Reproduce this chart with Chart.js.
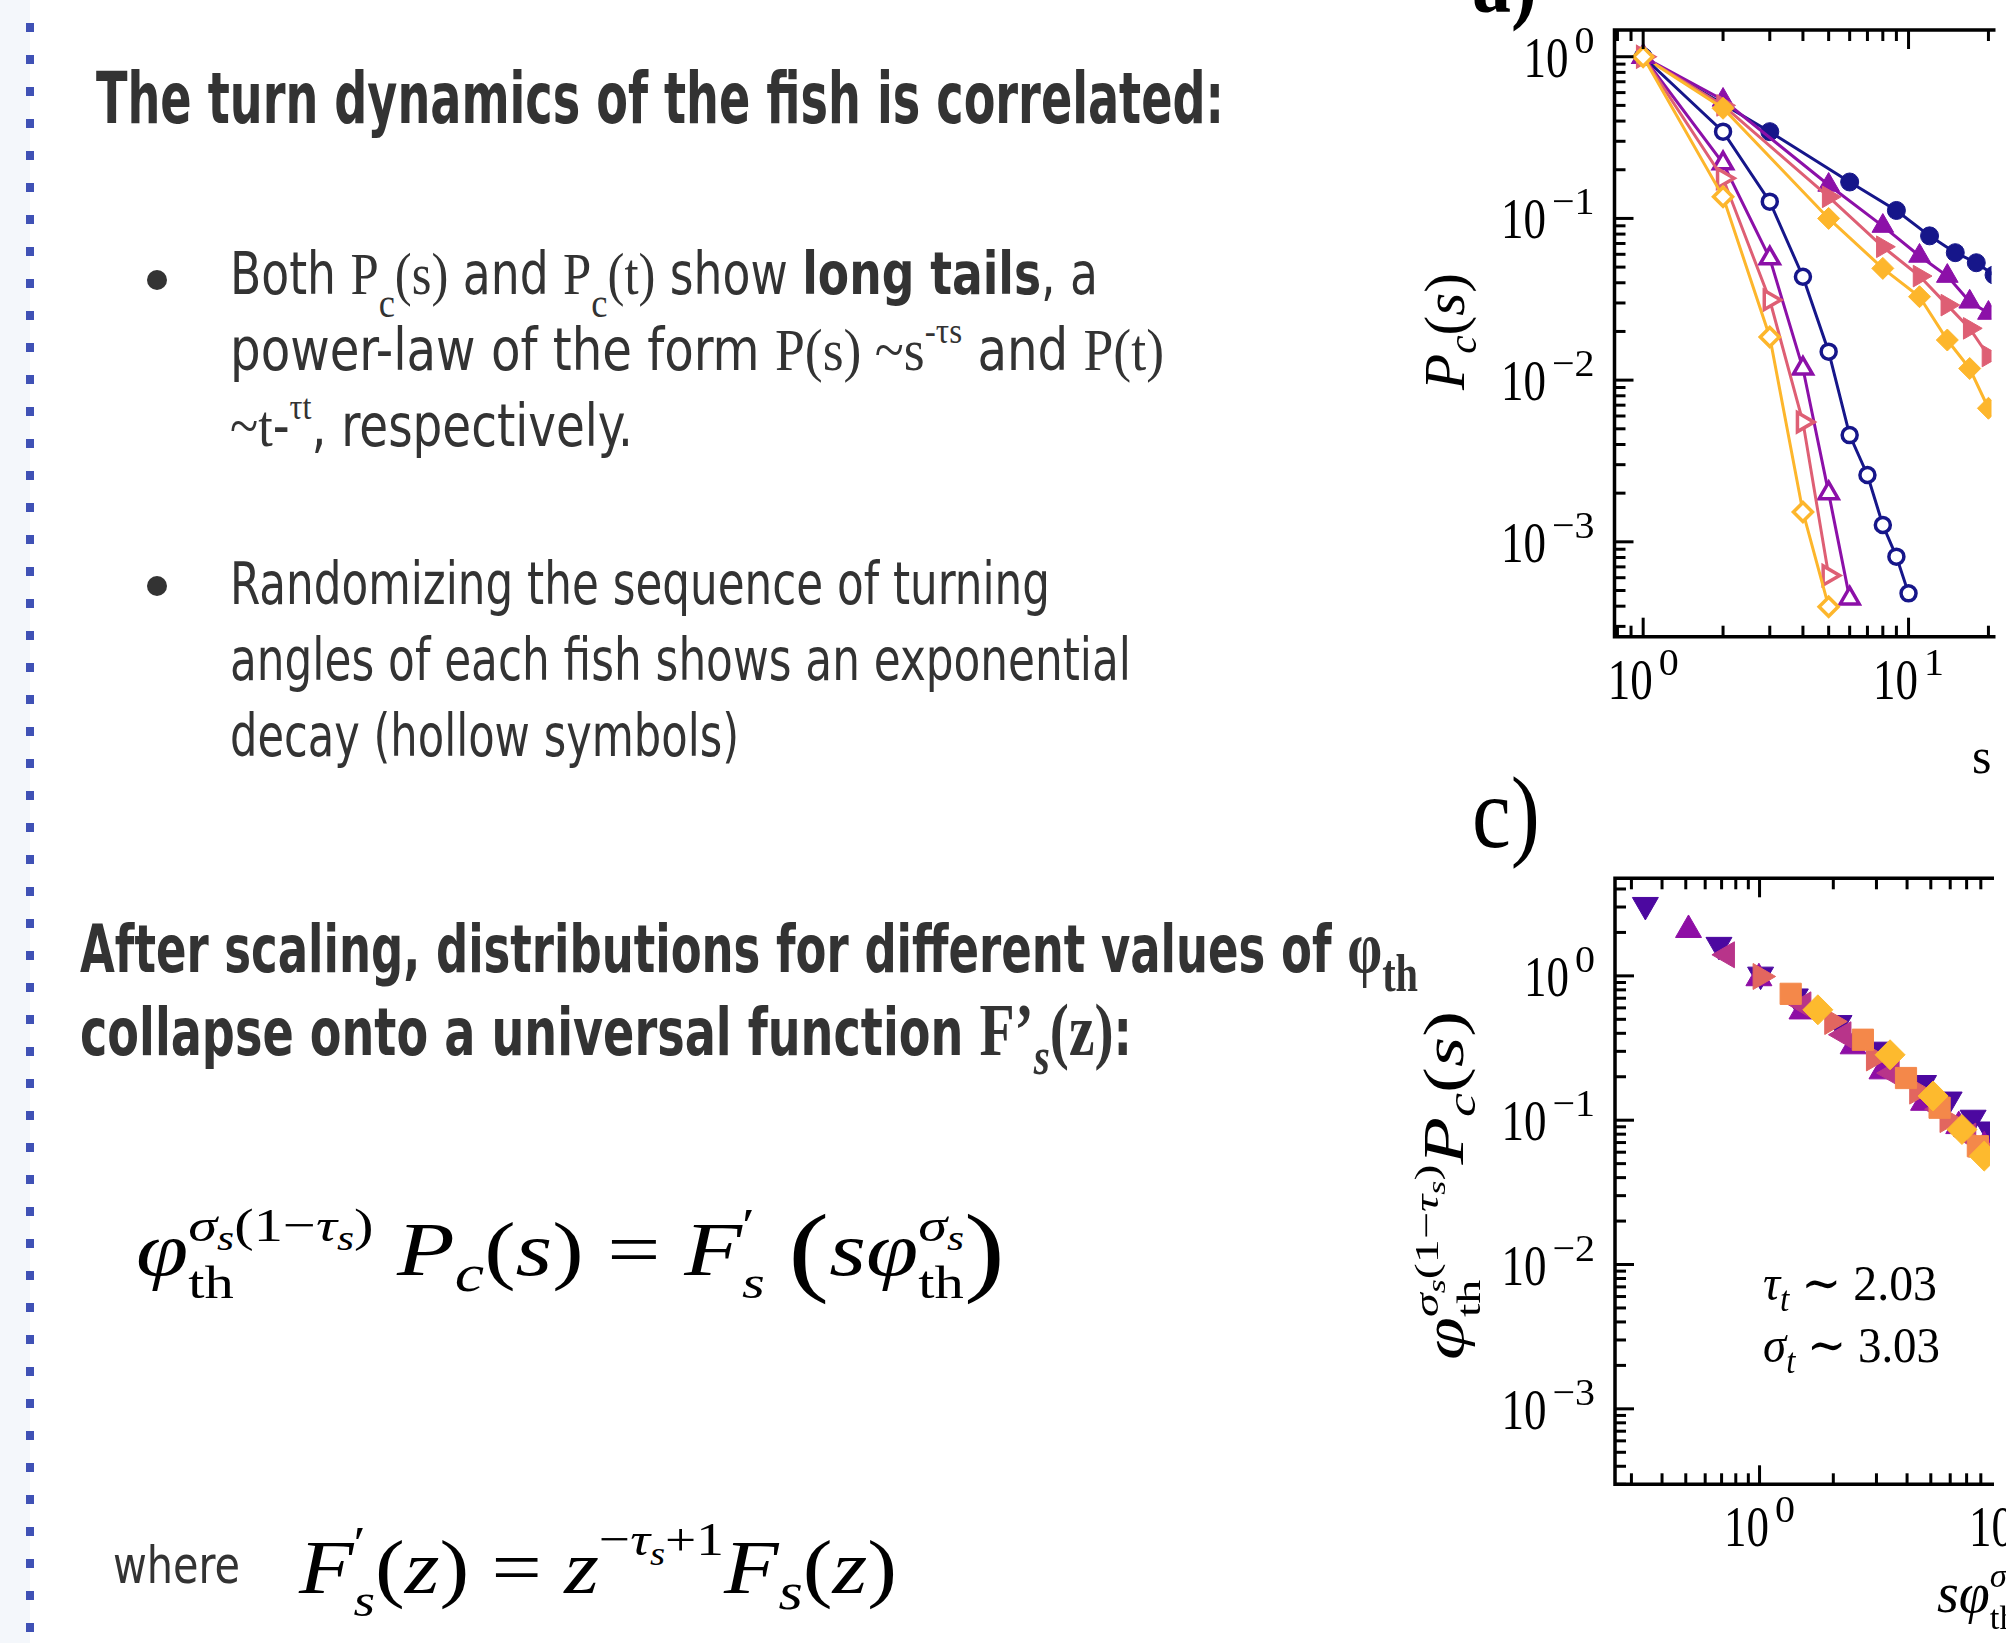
<!DOCTYPE html>
<html>
<head>
<meta charset="utf-8">
<script src="https://cdn.jsdelivr.net/npm/chart.js@4.4.1/dist/chart.umd.min.js"></script>
<style>
  html, body { margin: 0; padding: 0; background: #fff; }
  body { width: 2006px; height: 1643px; overflow: hidden; position: relative; }
  #strip { position: absolute; left: 0; top: 0; width: 30px; height: 1643px; background: #f4f7fb; }
  #dash  { position: absolute; left: 26px; top: 23px; width: 8px; height: 1620px;
           background: repeating-linear-gradient(to bottom, #3f51b5 0 9px, transparent 9px 32px); }
  canvas { position: absolute; }
  .t  { position: absolute; white-space: nowrap; width: max-content; line-height: 1.2; color: #333;
        font-family: 'Liberation Sans Narrow', 'DejaVu Sans Condensed', Roboto, sans-serif; }
  .t sub, .t sup { line-height: 0; }
  .t sub { font-size: 0.72em; vertical-align: -0.35em; }
  .t sub.lo { vertical-align: -0.55em; }
  .t sup { font-size: 0.62em; vertical-align: 0.75em; }
  .m  { font-family: 'Liberation Serif', 'Times New Roman', Tinos, 'DejaVu Serif', serif; }
  .big { font-size: 1.12em; }
  .eq { font-family: 'Liberation Serif', 'Times New Roman', Tinos, 'DejaVu Serif', serif; color: #000; }
  .eq sub { font-size: 0.7em; vertical-align: -0.3em; }
  .eq sup { font-size: 0.62em; vertical-align: 0.8em; }
  .st { display: inline-flex; flex-direction: column; font-size: 0.62em; line-height: 1.2; vertical-align: 0.72em; }
  .st sub { font-size: 0.75em; vertical-align: -0.25em; }
  .bp { font-size: 1.3em; vertical-align: -0.08em; }
  .dot { position: absolute; width: 20px; height: 20px; border-radius: 50%; background: #333; }
</style>
</head>
<body>
<div id="strip"></div>
<div id="dash"></div>
<canvas id="chartA" width="626" height="790" style="left:1380px; top:0px"></canvas>
<canvas id="chartC" width="626" height="883" style="left:1380px; top:760px"></canvas>
<div class="dot" style="left:147px; top:270px"></div>
<div class="dot" style="left:147px; top:576px"></div>
<div id="texts"></div>
<script>
// ---- panel a: P_c(s); filled = real turn sequences, hollow = shuffled ----
const sNavyFill   = [1, 3, 6, 9, 12, 15, 18, 21];
const pNavyFill   = [1.0, 0.344, 0.168, 0.112, 0.078, 0.0614, 0.0532, 0.0447];
const sFill       = [1, 2, 5, 8, 11, 14, 17, 20];
const pPurpleFill = [1.0, 0.54, 0.161, 0.0897, 0.0586, 0.044, 0.0305, 0.026];
const pPinkFill   = [1.0, 0.50, 0.136, 0.0668, 0.044, 0.0291, 0.0209, 0.0141];
const pGoldFill   = [1.0, 0.48, 0.100, 0.0491, 0.0328, 0.0177, 0.0118, 0.0067];
const sHollow       = [1, 2, 3, 4, 5, 6, 7, 8, 9, 10];
const pNavyHollow   = [1.0, 0.344, 0.127, 0.0436, 0.015, 0.00457, 0.00259, 0.00127, 0.00081, 0.00048];
const pPurpleHollow = [1.0, 0.219, 0.0567, 0.0118, 0.0020, 0.000447];
const pPinkHollow   = [1.0, 0.177, 0.0313, 0.0055, 0.00062];
const pGoldHollow   = [1.0, 0.136, 0.0185, 0.00153, 0.000397];

// ---- panel c: collapsed curves, x = s*phi^sigma, y = phi^(sigma(1-tau)) P_c ----
const zIndigo  = [0.342, 0.683, 1.01, 1.40, 2.11, 3.02, 4.67, 5.94, 7.44, 8.64];
const fIndigo  = [3.10, 1.64, 1.02, 0.72, 0.471, 0.308, 0.181, 0.139, 0.104, 0.0862];
const zViolet  = [0.513, 0.994, 1.49, 2.41, 3.16, 4.67, 6.50, 8.26];
const fViolet  = [2.08, 0.963, 0.567, 0.325, 0.218, 0.132, 0.091, 0.066];
const zMagenta = [0.736, 1.51, 2.20, 3.46, 5.43, 7.11];
const fMagenta = [1.40, 0.63, 0.391, 0.212, 0.119, 0.0776];
const zSalmon  = [1.01, 1.98, 2.93, 4.40, 5.85, 7.67];
const fSalmon  = [0.99, 0.483, 0.270, 0.159, 0.101, 0.068];
const zOrange  = [1.34, 2.64, 3.96, 5.43, 7.78];
const fOrange  = [0.751, 0.361, 0.196, 0.122, 0.066];
const zYellow  = [1.73, 3.41, 5.11, 6.70, 8.26];
const fYellow  = [0.582, 0.284, 0.147, 0.0862, 0.0564];

// tick labels (powers of ten)
const yMajors = [1, 0.1, 0.01, 0.001];
const yExps   = ['0', '\u22121', '\u22122', '\u22123'];
const xMajors = [1, 10];
const xExps   = ['0', '1'];

const NAVY = '#16168a', PURPLE = '#8c10a8', PINK = '#de5f74', GOLD = '#fdb62c';
const SERIF = '"Liberation Serif", "Times New Roman", Tinos, serif';

function pts(xs, ys) { return ys.map((y, i) => ({ x: xs[i], y })); }

function line(xs, ys, color, style, r, hollow, rot, order) {
  return {
    data: pts(xs, ys), showLine: true, borderColor: color, borderWidth: 3,
    pointStyle: style, pointRadius: r, pointRotation: rot || 0,
    pointBackgroundColor: hollow ? '#fff' : color, pointBorderColor: color,
    pointBorderWidth: hollow ? 3.5 : 1, order
  };
}

function dots(xs, ys, color, style, r, rot, order) {
  return {
    data: pts(xs, ys), showLine: false, pointStyle: style, pointRadius: r, pointRotation: rot || 0,
    pointBackgroundColor: color, pointBorderColor: color, pointBorderWidth: 1, order
  };
}

function logTicks(min, max) {
  const out = [];
  for (let e = Math.floor(Math.log10(min)); e <= Math.ceil(Math.log10(max)); e++)
    for (let k = 1; k < 10; k++) {
      const v = k * Math.pow(10, e);
      if (v >= min && v <= max) out.push([v, k === 1]);
    }
  return out;
}

// "10" with a raised exponent, figure text is a bit stretched vertically
function drawPow(ctx, exp, x, y, align, L) {
  ctx.font = L.font;    const w1 = ctx.measureText('10').width;
  ctx.font = L.supFont; const w2 = ctx.measureText(exp).width;
  const total = w1 + L.gap + w2;
  const x0 = align === 'right' ? x - total : x - total / 2;
  ctx.save(); ctx.translate(x0, y + L.base); ctx.scale(1, L.sy);
  ctx.font = L.font; ctx.fillText('10', 0, 0); ctx.restore();
  ctx.save(); ctx.translate(x0 + w1 + L.gap, y + L.supBase); ctx.scale(1, L.supSy);
  ctx.font = L.supFont; ctx.fillText(exp, 0, 0); ctx.restore();
}

const labelStyle = { font: '45px ' + SERIF, sy: 1.28, supFont: '40px ' + SERIF, supSy: 0.95, gap: 6 };

// inward ticks on left/top/bottom, frame, and tick labels
const frameTicks = {
  id: 'frameTicks',
  afterDraw(chart) {
    const { ctx, chartArea: a, scales: { x, y } } = chart;
    const seg = (x1, y1, x2, y2) => { ctx.beginPath(); ctx.moveTo(x1, y1); ctx.lineTo(x2, y2); ctx.stroke(); };
    ctx.save();
    ctx.strokeStyle = '#000';
    ctx.lineWidth = 3.5;
    ctx.beginPath();
    ctx.moveTo(a.right + 4, a.top); ctx.lineTo(a.left, a.top);
    ctx.lineTo(a.left, a.bottom); ctx.lineTo(a.right + 4, a.bottom);
    ctx.stroke();
    ctx.lineWidth = 3;
    logTicks(x.min, x.max).forEach(([v, major]) => {
      const px = x.getPixelForValue(v), L = major ? 19 : 11;
      seg(px, a.top, px, a.top + L);
      seg(px, a.bottom, px, a.bottom - L);
    });
    logTicks(y.min, y.max).forEach(([v, major]) => {
      const py = y.getPixelForValue(v), L = major ? 19 : 11;
      seg(a.left, py, a.left + L, py);
    });
    ctx.fillStyle = '#000';
    ctx.textBaseline = 'alphabetic';
    ctx.textAlign = 'left';
    yMajors.forEach((v, i) => {
      if (v < y.min || v > y.max) return;
      drawPow(ctx, yExps[i], a.left - 20, y.getPixelForValue(v), 'right',
        Object.assign({ base: 20, supBase: -4 }, labelStyle));
    });
    xMajors.forEach((v, i) => {
      drawPow(ctx, xExps[i], x.getPixelForValue(v), a.bottom, 'center',
        Object.assign({ base: 62, supBase: 38 }, labelStyle));
    });
    ctx.restore();
  }
};

function baseOptions(pad, xr, yr) {
  return {
    responsive: false, animation: false, devicePixelRatio: 1,
    layout: { padding: pad },
    plugins: { legend: { display: false }, tooltip: { enabled: false } },
    elements: { line: { tension: 0 } },
    scales: {
      x: { type: 'logarithmic', min: xr[0], max: xr[1], display: false },
      y: { type: 'logarithmic', min: yr[0], max: yr[1], display: false }
    }
  };
}

new Chart(document.getElementById('chartA'), {
  type: 'scatter',
  data: {
    datasets: [
      line(sHollow, pGoldHollow,   GOLD,   'rectRot',  9.5, true, 0, 0),
      line(sHollow, pPinkHollow,   PINK,   'triangle', 11, true, 90, 1),
      line(sHollow, pPurpleHollow, PURPLE, 'triangle', 11, true, 0, 2),
      line(sHollow, pNavyHollow,   NAVY,   'circle',   7.5, true, 0, 3),
      line(sFill, pGoldFill,       GOLD,   'rectRot',  11, false, 0, 4),
      line(sFill, pPinkFill,       PINK,   'triangle', 12.5, false, 90, 5),
      line(sFill, pPurpleFill,     PURPLE, 'triangle', 12.5, false, 0, 6),
      line(sNavyFill, pNavyFill,   NAVY,   'circle',   9, false, 0, 7)
    ]
  },
  options: baseOptions({ left: 234.5, top: 30, right: 0, bottom: 153.3 },
                       [0.7798, 20.54], [2.59e-4, 1.463]),
  plugins: [frameTicks]
});

new Chart(document.getElementById('chartC'), {
  type: 'scatter',
  data: {
    datasets: [
      dots(zYellow,  fYellow,  '#fdba2e', 'rectRot',  15, 0, 0),
      dots(zOrange,  fOrange,  '#f4884a', 'rect',     15, 0, 1),
      dots(zSalmon,  fSalmon,  '#e2665f', 'triangle', 15, 90, 2),
      dots(zMagenta, fMagenta, '#b8348a', 'triangle', 15, -90, 3),
      dots(zViolet,  fViolet,  '#8e0ea5', 'triangle', 15, 0, 4),
      dots(zIndigo,  fIndigo,  '#4c08a0', 'triangle', 15, 180, 5)
    ]
  },
  options: baseOptions({ left: 235, top: 118.3, right: 0, bottom: 158.7 },
                       [0.2571, 8.72], [3.03e-4, 4.743]),
  plugins: [frameTicks]
});

// ---- slide text (html, left x, baseline y, fitted width, font size) ----
const slideText = [
  { html: 'The turn dynamics of the fish is correlated:', x: 96, base: 123, w: 1128, size: 72, bold: true },
  { html: 'Both <span class="m">P<sub class="lo">c</sub>(s)</span> and <span class="m">P<sub class="lo">c</sub>(t)</span> show <b>long tails</b>, a', x: 230, base: 294, w: 868, size: 59 },
  { html: 'power-law of the form <span class="m">P(s) ~s<sup>-τs</sup></span> and <span class="m">P(t)</span>', x: 230, base: 370, w: 934, size: 59 },
  { html: '<span class="m">~t</span>-<sup class="m">τt</sup>, respectively.', x: 230, base: 446, w: 403, size: 59 },
  { html: 'Randomizing the sequence of turning', x: 230, base: 604, w: 820, size: 59 },
  { html: 'angles of each fish shows an exponential', x: 230, base: 680, w: 901, size: 59 },
  { html: 'decay (hollow symbols)', x: 230, base: 756, w: 509, size: 59 },
  { html: 'After scaling, distributions for different values of <span class="m big">φ<sub>th</sub></span>', x: 80, base: 972, w: 1338, size: 66, bold: true },
  { html: 'collapse onto a universal function <span class="m big">F’<sub><i>s</i></sub>(z)</span>:', x: 80, base: 1055, w: 1052, size: 66, bold: true },
  { html: 'where', x: 113, base: 1583, w: 127, size: 52 },
  { html: '<i>φ</i><span class="st"><span><i>σ</i><sub><i>s</i></sub>(1−<i>τ</i><sub><i>s</i></sub>)</span><span>th</span></span> <i>P</i><sub><i>c</i></sub>(<i>s</i>) = <i>F</i><span class="st"><span>′</span><span><i>s</i></span></span> <span class="bp">(</span><i>sφ</i><span class="st"><span><i>σ</i><sub><i>s</i></sub></span><span>th</span></span><span class="bp">)</span>',
    x: 136, base: 1275, w: 869, size: 76, eq: true },
  { html: '<i>F</i><span class="st"><span>′</span><span><i>s</i></span></span>(<i>z</i>) = <i>z</i><sup>−<i>τ</i><sub><i>s</i></sub>+1</sup><i>F</i><sub><i>s</i></sub>(<i>z</i>)',
    x: 299, base: 1593, w: 598, size: 76, eq: true },
  // figure annotations
  { html: '<b>a)</b>', x: 1472, base: 12, w: 65, size: 70, eq: true, sy: 1.3 },
  { html: 'c)', x: 1472, base: 847, w: 68, size: 82, eq: true, sy: 1.25 },
  { html: 's', x: 1972, base: 773, size: 50, eq: true },
  { html: '<i>τ</i><sub><i>t</i></sub> ∼ 2.03', x: 1763, base: 1300, w: 174, size: 50, eq: true },
  { html: '<i>σ</i><sub><i>t</i></sub> ∼ 3.03', x: 1763, base: 1362, w: 177, size: 50, eq: true },
  { html: '<i>sφ</i><span class="st"><span><i>σ</i><sub><i>s</i></sub></span><span>th</span></span>', x: 1937, base: 1612, size: 56, eq: true }
];

// rotated axis titles: baseline x, start (bottom) y, length
const rotText = [
  { html: '<i>P</i><sub><i>c</i></sub>(<i>s</i>)', bx: 1464, y0: 390, len: 117, size: 58 },
  { html: '<i>φ</i><span class="st"><span><i>σ</i><sub><i>s</i></sub>(1−<i>τ</i><sub><i>s</i></sub>)</span><span>th</span></span><i>P</i><sub><i>c</i></sub>(<i>s</i>)', bx: 1463, y0: 1360, len: 349, size: 56 }
];

const host = document.getElementById('texts');

function makeEl(d) {
  const el = document.createElement('div');
  el.className = d.eq || d.rot ? 't eq' : 't';
  el.innerHTML = d.html;
  el.style.fontSize = d.size + 'px';
  if (d.bold) el.style.fontWeight = 'bold';
  const mk = document.createElement('span');
  mk.style.cssText = 'display:inline-block;width:0;height:0;';
  el.prepend(mk);
  host.appendChild(el);
  el.style.left = '0px'; el.style.top = '0px';
  return { el, b: mk.offsetTop, w: el.getBoundingClientRect().width };
}

slideText.forEach(d => {
  const { el, b, w } = makeEl(d);
  const sx = d.w ? d.w / w : 1;
  el.style.left = d.x + 'px';
  el.style.top = (d.base - b) + 'px';
  el.style.transformOrigin = `0 ${b}px`;
  el.style.transform = `scale(${sx}, ${d.sy || 1})`;
});

rotText.forEach(d => {
  const { el, b, w } = makeEl(Object.assign({ rot: true }, d));
  el.style.left = d.bx + 'px';
  el.style.top = (d.y0 - b) + 'px';
  el.style.transformOrigin = `0 ${b}px`;
  el.style.transform = `rotate(-90deg) scaleX(${d.len / w})`;
});
</script>
</body>
</html>
